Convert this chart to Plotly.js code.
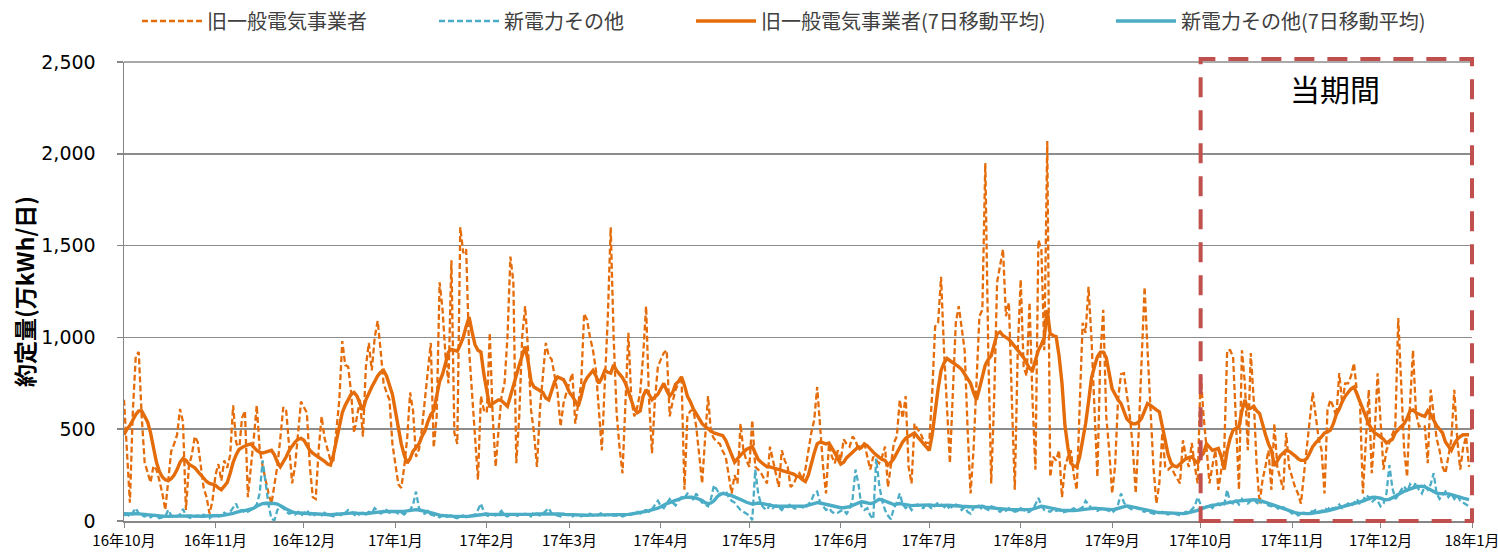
<!DOCTYPE html>
<html><head><meta charset="utf-8">
<script src="https://cdn.plot.ly/plotly-3.0.1.min.js"></script>
<style>html,body{margin:0;padding:0;background:#fff}#chart{width:1498px;height:552px}</style>
</head><body><div id="chart"></div>
<script>
// Daily series start date (16年10月1日) and axis tick labels
const startDate = '2016-10-01';
const endDate = '2018-01-01';
const seriesNames = ['旧一般電気事業者', '新電力その他', '旧一般電気事業者(7日移動平均)', '新電力その他(7日移動平均)'];
const periodLabel = '当期間';
const periodStart = '2017-10-01';
const periodEnd = '2018-01-01';

// 旧一般電気事業者 daily (万kWh/日)
const incumbentDaily = [
660,350,100,600,900,920,570,320,260,210, 300,280,220,150,60,220,380,420,470,610,
540,60,300,360,460,430,300,180,130,40, 110,250,310,220,330,290,360,630,430,380,
560,600,130,280,450,630,390,300,220,150, 95,200,300,450,620,600,390,205,300,500,
650,620,590,300,130,120,390,570,450,390, 330,330,500,660,980,850,840,700,480,570,
660,460,840,970,820,1000,1090,930,750,700, 660,420,300,200,180,295,450,700,600,350,
390,500,660,800,970,400,570,1300,1150,900, 750,1420,480,420,1600,1460,1480,930,700,480,
225,680,605,590,1025,570,295,500,680,750, 1000,1440,1300,315,570,1005,1170,930,605,480,
295,605,800,970,900,880,790,700,515,640, 700,750,805,530,650,750,1130,1095,1000,930,
820,600,385,750,1100,1600,1000,590,400,260, 660,1025,660,570,620,700,900,1170,660,370,
660,840,880,915,930,570,650,715,750,790, 170,570,600,605,515,350,205,450,680,480,
450,430,420,380,350,250,150,250,205,530, 385,330,295,550,295,280,260,230,205,405,
330,250,185,385,330,295,185,200,240,260, 225,280,380,480,550,730,515,295,150,420,
350,315,385,330,445,420,405,460,440,385, 400,425,350,280,350,330,315,350,405,185,
300,425,460,660,560,680,295,205,530,500, 480,440,425,425,700,1060,1080,1330,930,600,
315,700,1080,1170,1050,930,500,150,385,800, 1115,1150,1950,930,205,660,1300,1390,1480,1115,
1190,660,170,930,1315,840,790,1190,660,280, 1530,1480,930,2070,240,350,330,385,130,295,
350,385,250,170,600,1080,1025,1275,990,640, 240,900,1150,570,385,150,300,660,800,805,
700,570,400,150,480,900,1275,930,640,295, 95,205,480,295,280,295,260,230,205,440,
350,295,425,300,205,805,570,400,205,300, 385,170,280,385,930,930,895,480,170,930,
750,385,915,660,300,95,225,300,385,170, 530,295,230,170,480,295,240,185,150,95,
250,385,550,700,570,450,385,150,605,660, 620,570,805,640,750,750,790,860,700,660,
150,445,715,260,480,805,530,280,385,430, 480,515,1105,750,385,240,640,930,590,515,
520,515,315,715,570,450,385,295,260,350, 445,715,445,280,400,460,295
];

// 新電力その他 daily
const newEntrantDaily = [
30,35,25,45,70,40,30,25,35,20, 30,25,15,20,25,60,30,20,25,35,
65,30,20,15,25,30,20,35,25,15, 30,40,25,30,45,35,50,70,95,55,
60,45,50,60,70,90,150,330,200,90, 10,5,60,80,70,50,40,45,35,50,
30,40,60,35,25,40,35,30,45,35, 30,25,40,35,30,45,60,55,35,25,
40,45,35,50,45,70,55,40,50,60, 45,55,50,40,45,35,50,60,90,160,
70,45,40,55,35,30,25,20,30,20, 25,30,20,15,25,30,20,25,30,35,
60,95,50,30,25,35,30,40,55,30, 25,35,40,30,25,35,40,30,25,50,
35,30,40,55,70,40,35,30,25,40, 35,30,25,35,30,25,30,35,40,30,
25,35,45,30,35,25,30,30,35,25, 30,40,35,45,50,40,55,60,50,65,
90,110,80,70,95,120,100,85,110,130, 125,150,140,115,150,120,100,90,80,120,
195,170,140,150,165,130,110,100,80,60, 50,40,30,5,280,150,90,70,60,90,
70,85,75,60,80,75,95,70,65,80, 75,70,90,110,150,160,100,80,60,70,
50,40,45,55,60,40,65,120,280,200, 80,60,70,30,10,340,200,110,60,30,
10,70,100,150,90,70,85,60,80,90, 75,70,95,80,65,85,100,90,75,65,
80,70,90,85,60,75,50,40,70,90, 80,60,70,60,80,75,60,50,65,55,
70,60,50,55,70,60,45,50,65,90, 125,85,60,55,50,65,55,60,45,50,
55,60,70,55,65,75,110,90,70,60, 55,65,70,60,55,45,60,90,150,100,
80,70,60,75,65,55,50,60,45,40, 35,45,50,40,35,45,40,35,30,40,
50,45,60,80,130,90,70,80,85,70, 90,95,80,90,170,100,95,110,90,120,
105,95,110,120,100,90,110,95,85,80, 90,70,60,75,65,55,40,50,30,35,
45,40,55,50,60,45,55,70,60,80, 65,75,90,70,85,95,80,100,120,90,
110,140,130,100,120,110,80,95,150,305, 180,120,140,170,190,160,200,180,210,170,
150,190,170,200,260,150,120,140,160,130, 150,120,140,110,100,90,80
];

// 旧一般電気事業者 7日移動平均
const incumbentMA = [
470,500,520,550,580,600,600,570,540,480, 400,320,270,240,225,220,230,250,280,320,
340,330,310,300,290,270,250,230,215,205, 200,195,180,170,190,210,260,320,360,390,
400,410,415,420,400,385,375,370,375,380, 385,360,320,295,320,350,385,410,430,445,
450,440,410,385,370,360,350,340,325,310, 305,360,440,520,590,630,660,690,700,680,
640,605,660,700,730,760,790,810,820,790, 740,690,600,500,420,360,315,340,380,400,
420,460,490,540,580,600,680,760,800,870, 920,935,930,925,960,1000,1060,1110,1030,960,
930,920,800,700,620,640,650,660,655,640, 625,680,740,785,850,900,950,870,760,730,
720,715,700,670,660,710,760,785,775,770, 740,700,680,650,625,680,750,780,800,820,
790,750,780,820,810,805,850,820,800,780, 750,700,645,610,590,600,680,715,690,660,
675,690,720,750,710,680,700,745,760,785, 740,680,650,610,585,560,530,515,500,490,
480,475,470,465,440,400,350,320,340,360, 375,390,400,405,370,335,320,305,295,295,
290,285,280,275,270,265,260,255,245,240, 225,215,250,320,370,420,430,425,420,425,
400,370,340,310,320,345,360,375,390,405, 400,420,410,390,375,360,345,335,330,305,
320,340,370,400,430,450,460,470,480,460, 440,420,400,385,470,600,720,820,860,885,
875,860,850,840,825,800,780,750,700,660, 720,790,850,880,900,960,1020,1030,1010,1000,
990,970,950,935,910,890,860,830,820,870, 930,960,1000,1150,1020,1010,1005,900,750,520,
400,315,300,295,350,440,530,650,780,840, 895,920,920,890,800,720,690,660,640,600,
555,540,530,530,540,560,600,640,630,615, 605,595,520,425,360,315,300,295,310,330,
340,345,350,330,315,350,370,420,400,385, 390,395,350,280,385,450,495,505,515,600,
660,610,615,625,600,585,520,470,420,385, 300,330,355,370,385,380,370,355,340,330,
330,340,370,405,425,440,460,480,485,495, 530,580,610,650,680,700,720,730,690,640,
600,560,530,500,480,470,460,445,425,435, 445,480,500,515,530,560,600,605,590,580,
575,570,600,580,550,520,500,480,430,410, 385,420,445,460,470,470,470
];

// 新電力その他 7日移動平均
const newEntrantMA = [
40,38,37,38,40,40,38,36,34,32, 30,28,27,26,25,25,26,27,28,28,
29,29,28,27,26,25,25,26,27,27, 27,28,29,30,32,34,38,42,47,52,
55,57,60,65,70,80,90,95,97,97, 96,95,92,85,75,65,55,50,45,44,
42,40,40,38,37,36,35,35,35,34, 34,35,36,37,40,42,44,45,44,42,
40,40,40,42,45,48,50,50,52,52, 50,50,48,48,50,52,55,58,60,62,
60,58,55,50,45,40,35,32,30,28, 27,26,25,25,24,24,25,26,28,30,
33,38,40,38,36,35,34,34,35,36, 36,35,34,33,33,34,35,36,36,37,
38,38,38,38,40,42,42,40,38,36, 35,34,33,32,31,30,30,31,32,32,
33,33,34,34,33,32,32,33,33,34, 35,36,38,40,42,45,48,52,56,60,
64,70,78,88,95,100,108,112,118,124, 128,130,130,128,125,120,112,100,95,98,
110,130,145,150,148,142,138,132,125,118, 110,102,96,92,95,98,96,92,88,85,
82,80,80,80,80,80,79,78,78,78, 80,82,86,92,98,100,98,94,90,85,
80,76,74,72,72,74,78,85,92,100, 105,102,98,95,98,110,118,115,108,100,
94,90,92,95,92,88,85,84,85,86, 87,87,88,88,86,85,84,84,85,86,
86,85,84,82,80,78,76,75,76,78, 80,80,75,72,70,70,68,66,65,64,
63,62,62,62,60,60,60,62,65,70, 76,80,78,74,70,66,62,60,58,57,
56,56,57,58,60,63,66,70,72,70, 68,66,65,64,62,62,64,68,74,80,
82,80,76,72,68,64,60,56,52,50, 48,46,45,44,43,42,42,41,40,40,
42,45,48,52,58,66,72,78,82,86, 88,90,92,94,96,100,104,108,110,112,
114,115,116,116,115,112,108,102,96,90, 84,78,72,66,60,55,50,46,43,41,
40,40,41,43,45,48,50,53,56,60, 64,68,72,76,80,84,88,95,98,102,
108,115,122,128,130,128,124,118,115,118, 125,135,145,155,162,168,172,180,185,188,
190,186,178,168,158,152,150,150,150,148, 144,138,132,128,124,120,116
];

const DAY = 86400000;
const t0 = Date.parse(startDate + 'T00:00:00Z');
const tEnd = Date.parse(endDate + 'T00:00:00Z');
const dates = incumbentDaily.map((_, i) => new Date(t0 + i * DAY).toISOString().slice(0, 10));
// position of a date on the x axis as a fraction of the plot width (for the period box)
const dateFrac = s => (Date.parse(s + 'T00:00:00Z') - t0) / (tEnd - t0);

const ORANGE = '#E46C0A';
const BLUE = '#4BACC6';
const GRID = '#8c8c8c';
const FONT = '"Noto Sans CJK JP", "Noto Sans", sans-serif';
const NUMFONT = '"DejaVu Sans", "Noto Sans", sans-serif';

const traces = [
  {x: dates, y: incumbentDaily, name: seriesNames[0], type: 'scatter', mode: 'lines',
   line: {color: ORANGE, width: 2.3, dash: '6px,3px'}, legend: 'legend'},
  {x: dates, y: newEntrantDaily, name: seriesNames[1], type: 'scatter', mode: 'lines',
   line: {color: BLUE, width: 2.3, dash: '6px,3px'}, legend: 'legend2'},
  {x: dates, y: incumbentMA, name: seriesNames[2], type: 'scatter', mode: 'lines',
   line: {color: ORANGE, width: 3.4}, legend: 'legend3'},
  {x: dates, y: newEntrantMA, name: seriesNames[3], type: 'scatter', mode: 'lines',
   line: {color: BLUE, width: 3.4}, legend: 'legend4'}
];

const W = 1498, H = 552, L = 124, R = 26, T = 62, B = 31;
const PW = W - L - R, PH = H - T - B;
const px2paper = p => (p - L) / PW;
const py2paper = p => 1 - (p - T) / PH;
const legendBase = {orientation: 'h', yanchor: 'middle', y: py2paper(21), xanchor: 'left',
  font: {family: FONT, size: 20, color: '#404040'}, bgcolor: 'rgba(0,0,0,0)', itemwidth: 60};

const layout = {
  width: W, height: H,
  margin: {l: L, r: R, t: T, b: B, pad: 0, autoexpand: false},
  paper_bgcolor: '#fff', plot_bgcolor: '#fff',
  font: {family: FONT, color: '#000'},
  showlegend: true,
  legend: Object.assign({}, legendBase, {x: px2paper(137)}),
  legend2: Object.assign({}, legendBase, {x: px2paper(434)}),
  legend3: Object.assign({}, legendBase, {x: px2paper(691)}),
  legend4: Object.assign({}, legendBase, {x: px2paper(1111)}),
  xaxis: {
    type: 'date', range: [startDate, endDate], dtick: 'M1', tick0: startDate,
    tickformat: '%y年%-m月', ticks: 'outside', ticklen: 5, tickcolor: '#868686', tickwidth: 1,
    ticklabeloverflow: 'allow',
    showgrid: false, showline: true, linecolor: '#868686', linewidth: 1.5,
    tickfont: {family: FONT, size: 15, color: '#000'}, zeroline: false
  },
  yaxis: {
    range: [0, 2500], dtick: 500, tickformat: ',d', showgrid: true,
    gridcolor: GRID, gridwidth: 1.5, showline: true, linecolor: '#868686', linewidth: 1.5,
    ticks: 'outside', ticklen: 6, tickcolor: '#868686', tickwidth: 1.5,
    ticklabelstandoff: 17, tickfont: {family: NUMFONT, size: 19, color: '#000'}, zeroline: false,
    title: {text: '約定量(万kWh/日)', font: {family: FONT, size: 23, color: '#000', weight: 'bold'}, standoff: 0}
  },
  shapes: [
    {type: 'line', xref: 'paper', yref: 'paper', x0: 0, x1: 1, y0: 1, y1: 1,
     line: {color: GRID, width: 1.5}, layer: 'below'},
    {type: 'rect', xref: 'paper', yref: 'paper',
     x0: dateFrac(periodStart), x1: dateFrac(periodEnd), y0: py2paper(521), y1: py2paper(59),
     line: {color: '#C0504D', width: 4, dash: '20px,13px'}, fillcolor: 'rgba(0,0,0,0)', layer: 'above'}
  ],
  annotations: [{
    text: periodLabel, xref: 'paper', yref: 'paper', x: px2paper(1335), y: py2paper(88),
    showarrow: false, xanchor: 'center', yanchor: 'middle',
    font: {family: FONT, size: 30, color: '#000'}
  }]
};

Plotly.newPlot('chart', traces, layout, {staticPlot: true, displayModeBar: false});
</script></body></html>
